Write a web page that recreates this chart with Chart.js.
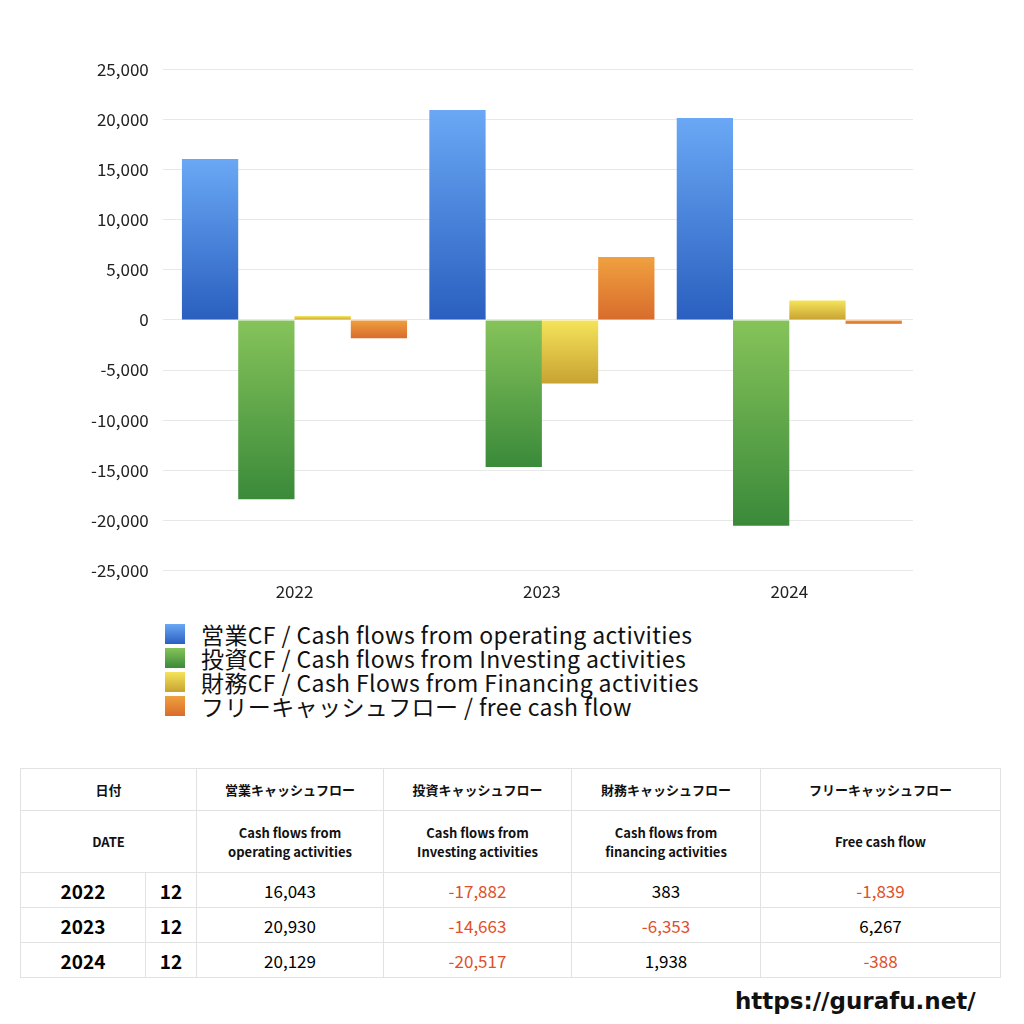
<!DOCTYPE html>
<html><head><meta charset="utf-8">
<script src="https://cdn.jsdelivr.net/npm/chart.js@4/dist/chart.umd.min.js"></script>
<style>
body{margin:0;width:1024px;height:1024px;background:#fff;font-family:"Noto Sans CJK JP","Noto Sans",sans-serif;position:relative;overflow:hidden}
#wrap{position:absolute;left:77px;top:45px;width:836px;height:560px}
#legend{position:absolute;left:165px;top:622px;font-size:23px;line-height:24px;color:#111;letter-spacing:0.4px}
#legend div{display:flex;align-items:center;height:24px}
#legend span.b{width:20px;height:20px;margin-right:16px;display:inline-block}
table{position:absolute;left:20px;top:768px;width:980px;border-collapse:collapse;font-size:17px;table-layout:fixed}
td{border:1px solid #e2e2e2;text-align:center;padding:0}
.h td{font-size:13px;font-weight:bold;color:#111}
.neg{color:#e0502a}
.yr{font-weight:bold;font-size:19px}
#url{position:absolute;left:735px;top:988px;font-size:23px;font-family:"DejaVu Sans",sans-serif;font-weight:bold;color:#111}
</style></head><body>
<div id="wrap"><canvas id="c"></canvas></div>
<div id="legend"></div>
<table id="t"><colgroup><col style="width:125px"><col style="width:51px"><col style="width:187px"><col style="width:188px"><col style="width:189px"><col style="width:240px"></colgroup><tbody id="tb"></tbody></table>
<div id="url">https://gurafu.net/</div>
<script>
const categories=["2022","2023","2024"];
const operating=[16043,20930,20129];
const investing=[-17882,-14663,-20517];
const financing=[383,-6353,1938];
const freeCF=[-1839,6267,-388];
const seriesNames=["営業CF / Cash flows from operating activities","投資CF / Cash flows from Investing activities","財務CF / Cash Flows from Financing activities","フリーキャッシュフロー / free cash flow"];
const grads=[["#6aa8f5","#2a5fbf"],["#86c35a","#3a8a3a"],["#f5e45a","#c8a232"],["#f0a040","#d86c2c"]];
function bg(i){return ctx=>{const ch=ctx.chart;if(!ch.chartArea||ctx.parsed===undefined)return grads[i][1];
 const y=ch.scales.y,v=ctx.parsed.y;const p=y.getPixelForValue(v),b=y.getPixelForValue(0);
 const top=Math.min(p,b),bot=Math.max(p,b)+0.01;const g=ch.ctx.createLinearGradient(0,top,0,bot);
 g.addColorStop(0,grads[i][0]);g.addColorStop(1,grads[i][1]);return g;};}
const data=[operating,investing,financing,freeCF];
new Chart(document.getElementById('c'),{type:'bar',
 data:{labels:categories,datasets:data.map((d,i)=>({label:seriesNames[i],data:d,backgroundColor:bg(i),categoryPercentage:0.91,barPercentage:1}))},
 options:{responsive:true,maintainAspectRatio:false,animation:false,
  plugins:{legend:{display:false},tooltip:{enabled:false}},
  scales:{x:{grid:{display:false},border:{display:false},ticks:{color:'#222',font:{size:17,family:"Noto Sans CJK JP"}}},
   y:{min:-25000,max:25000,border:{display:false},grid:{color:'#e8e8e8'},
    ticks:{stepSize:5000,color:'#222',padding:14,font:{size:17,family:"Noto Sans CJK JP"},callback:v=>v.toLocaleString('en-US')}}}}});
const lg=document.getElementById('legend');
seriesNames.forEach((n,i)=>{lg.innerHTML+=`<div><span class="b" style="background:linear-gradient(${grads[i][0]},${grads[i][1]})"></span>${n}</div>`;});
const f=v=>v.toLocaleString('en-US');
const c=v=>`<td class="${v<0?'neg':''}">${f(v)}</td>`;
let h=`<tr class="h" style="height:42px"><td colspan="2">日付</td><td>営業キャッシュフロー</td><td>投資キャッシュフロー</td><td>財務キャッシュフロー</td><td>フリーキャッシュフロー</td></tr>
<tr class="h" style="height:62px"><td colspan="2">DATE</td><td>Cash flows from<br>operating activities</td><td>Cash flows from<br>Investing activities</td><td>Cash flows from<br>financing activities</td><td>Free cash flow</td></tr>`;
categories.forEach((y,i)=>{h+=`<tr style="height:35px"><td class="yr">${y}</td><td class="yr">12</td>${c(operating[i])}${c(investing[i])}${c(financing[i])}${c(freeCF[i])}</tr>`;});
document.getElementById('tb').innerHTML=h;
</script></body></html>
